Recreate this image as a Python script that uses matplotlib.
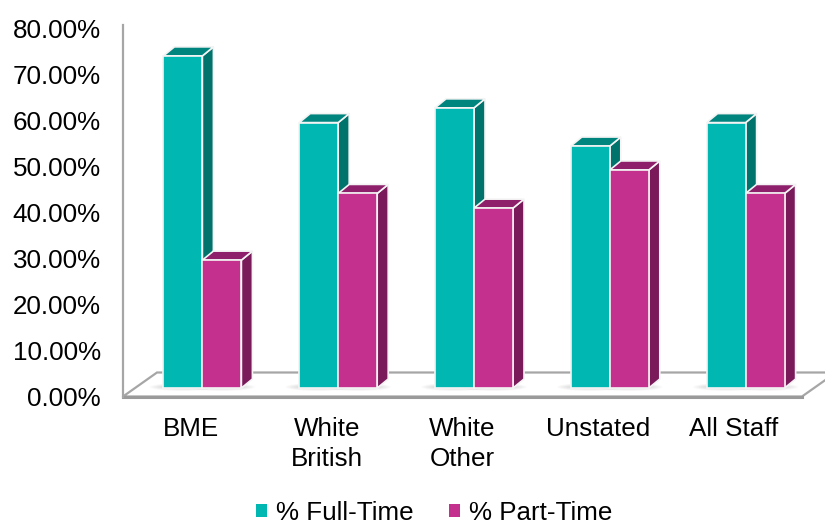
import matplotlib.pyplot as plt
from matplotlib.patches import Polygon, Rectangle, Ellipse
from matplotlib.ticker import PercentFormatter

plt.rcParams['font.family'] = ['Liberation Sans', 'DejaVu Sans']

categories = ['BME', 'White\nBritish', 'White\nOther', 'Unstated', 'All Staff']
full_time = [72.2, 57.7, 60.9, 52.6, 57.7]
part_time = [27.8, 42.3, 39.1, 47.4, 42.3]
series_names = ['% Full-Time', '% Part-Time']

# front / top / side shades for each series
teal = ('#00b7b1', '#00847e', '#00736d')
magenta = ('#c3308e', '#8e1f6b', '#7a1a5a')

fig = plt.figure(figsize=(8.25, 5.26), dpi=100)
W, H = 825, 526
ymax = 80.75
ax = fig.add_axes([123 / W, 129.5 / H, 679 / W, 368 * ymax / 80 / H])
ax.set_xlim(-0.5, 4.5)
ax.set_ylim(0, ymax)

# pixel -> data conversion
px_x = ax.bbox.width / 5.0
px_y = ax.bbox.height / ymax

bar_w = 39 / px_x
floor_dx, floor_dy = 34 / px_x, 24 / px_y
face_dx, face_dy = 11.5 / px_x, 8.5 / px_y   # front faces sit mid-depth
depth_dx, depth_dy = 11 / px_x, 9 / px_y     # depth of each bar

# floor
floor = Polygon([(-0.5, 0), (4.5, 0), (4.5 + floor_dx, floor_dy), (-0.5 + floor_dx, floor_dy)],
                closed=True, facecolor='white', edgecolor='#a6a6a6', lw=1.6,
                clip_on=False, zorder=1)
ax.add_patch(floor)
ax.plot([-0.5, 4.5], [0, 0], color='#9a9a9a', lw=2.2, clip_on=False, zorder=1.5)


def draw_bar(x0, h, shades):
    front, top, side = shades
    bx, by = x0 + face_dx, face_dy
    ec = '#f4f4f4'
    # soft shadow on the floor
    for k in range(6):
        ax.add_patch(Ellipse((bx + bar_w / 2, by + 1 / px_y), bar_w * (1.7 - 0.1 * k),
                             (8 - k) / px_y, facecolor='#808080', alpha=0.04,
                             lw=0, clip_on=False, zorder=2))
    ax.add_patch(Polygon([(bx + bar_w, by), (bx + bar_w + depth_dx, by + depth_dy),
                          (bx + bar_w + depth_dx, by + h + depth_dy), (bx + bar_w, by + h)],
                         closed=True, facecolor=side, edgecolor=ec, lw=1.2,
                         clip_on=False, zorder=3))
    ax.add_patch(Polygon([(bx, by + h), (bx + bar_w, by + h),
                          (bx + bar_w + depth_dx, by + h + depth_dy), (bx + depth_dx, by + h + depth_dy)],
                         closed=True, facecolor=top, edgecolor=ec, lw=1.2,
                         clip_on=False, zorder=3))
    ax.add_patch(Rectangle((bx, by), bar_w, h, facecolor=front, edgecolor=ec, lw=1.2,
                           clip_on=False, zorder=3))


for i in range(len(categories)):
    draw_bar(i - bar_w, full_time[i], teal)
    draw_bar(i, part_time[i], magenta)

# axes styling
for s in ['top', 'right', 'bottom']:
    ax.spines[s].set_visible(False)
ax.spines['left'].set_color('#a6a6a6')
ax.spines['left'].set_linewidth(1.6)
ax.set_yticks(range(0, 81, 10))
ax.yaxis.set_major_formatter(PercentFormatter(decimals=2))
ax.tick_params(axis='y', length=0, pad=16, labelsize=18.7)
ax.set_xticks(range(len(categories)))
ax.set_xticklabels(categories, fontsize=18.7, linespacing=1.3)
ax.tick_params(axis='x', length=0, pad=15)
ax.patch.set_visible(False)

handles = [Rectangle((0, 0), 1, 1, facecolor=teal[0]), Rectangle((0, 0), 1, 1, facecolor=magenta[0])]
fig.legend(handles, series_names, loc='center', bbox_to_anchor=(434.5 / W, 1 - 513 / H), ncol=2,
           frameon=False, fontsize=18.7, handlelength=0.42, handleheight=0.42,
           handletextpad=0.35, columnspacing=1.35, borderpad=0)

fig.savefig('out.png', dpi=100)
